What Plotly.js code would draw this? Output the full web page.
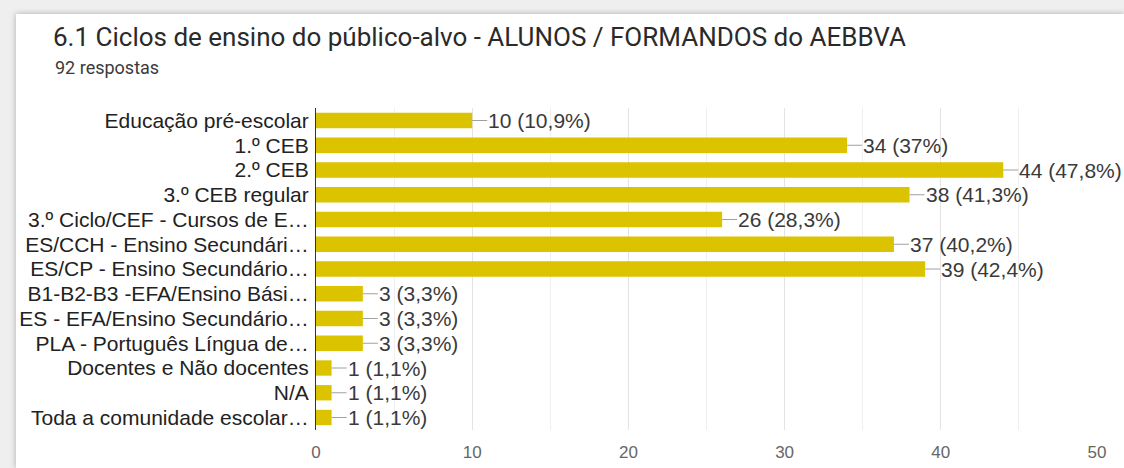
<!DOCTYPE html>
<html>
<head>
<meta charset="utf-8">
<script src="https://cdn.plot.ly/plotly-3.0.1.min.js"></script>
<style>
  html, body { margin: 0; padding: 0; background: #efefef; width: 1124px; height: 468px; overflow: hidden; }
  #chart { position: absolute; left: 16px; top: 14px; width: 1108px; height: 454px; background: #fff;
           box-shadow: 0 0 6px rgba(0,0,0,0.28); }
</style>
</head>
<body>
<div id="chart"></div>
<script>
const categories = [
  "Educação pré-escolar",
  "1.º CEB",
  "2.º CEB",
  "3.º CEB regular",
  "3.º Ciclo/CEF - Cursos de E…",
  "ES/CCH - Ensino Secundári…",
  "ES/CP - Ensino Secundário…",
  "B1-B2-B3 -EFA/Ensino Bási…",
  "ES - EFA/Ensino Secundário…",
  "PLA - Português Língua de…",
  "Docentes e Não docentes",
  "N/A",
  "Toda a comunidade escolar…"
];
const counts = [10, 34, 44, 38, 26, 37, 39, 3, 3, 3, 1, 1, 1];
const percents = ["10,9%", "37%", "47,8%", "41,3%", "28,3%", "40,2%", "42,4%", "3,3%", "3,3%", "3,3%", "1,1%", "1,1%", "1,1%"];
const xTicks = [0, 10, 20, 30, 40, 50];
const titleText = "6.1 Ciclos de ensino do público-alvo - ALUNOS / FORMANDOS do AEBBVA";
const subtitleText = "92 respostas";

const labelFont = "'Liberation Sans', Arial, sans-serif";

const trace = {
  type: "bar",
  orientation: "h",
  x: counts,
  y: categories,
  marker: { color: "#dbc300" },
  hoverinfo: "none"
};

const annotations = categories.map((c, i) => ({
  x: counts[i], y: c, xref: "x", yref: "y",
  text: counts[i] + " (" + percents[i] + ")",
  showarrow: true, arrowhead: 0, arrowwidth: 1, arrowcolor: "#a0a0a0",
  ax: 15, ay: 0, xanchor: "left", yanchor: "middle",
  borderpad: 0,
  font: { family: labelFont, size: 21, color: "#3a3a3a" }
}));

annotations.push({
  xref: "paper", yref: "paper",
  x: -263 / 781, y: 1 + 40 / 322,
  xanchor: "left", yanchor: "middle",
  text: subtitleText, showarrow: false,
  font: { family: "Roboto, sans-serif", size: 18, color: "#3a3a3a" }
});

const layout = {
  width: 1108, height: 454,
  margin: { l: 300, r: 27, t: 94, b: 38 },
  paper_bgcolor: "#ffffff",
  plot_bgcolor: "#ffffff",
  showlegend: false,
  bargap: 0.38,
  title: {
    text: titleText,
    xref: "container", yref: "container",
    x: 37 / 1108, xanchor: "left",
    y: 1 - 23 / 454, yanchor: "middle",
    font: { family: "Roboto, sans-serif", size: 26, color: "#2a2a2a" }
  },
  xaxis: {
    range: [0, 50],
    tickvals: xTicks,
    ticktext: xTicks.map(String),
    showgrid: true, gridcolor: "#e4e4e4", gridwidth: 1,
    minor: { dtick: 5, showgrid: true, gridcolor: "#efefef", gridwidth: 1 },
    zeroline: false, showline: false,
    ticks: "", ticklen: 0, ticklabelstandoff: 10,
    tickfont: { family: labelFont, size: 17, color: "#666" },
    fixedrange: true
  },
  yaxis: {
    autorange: "reversed",
    tickmode: "array",
    tickvals: categories,
    ticktext: categories,
    showline: true, linecolor: "#333", linewidth: 1,
    showgrid: false, zeroline: false,
    ticks: "", ticklen: 0, ticklabelstandoff: 2,
    tickfont: { family: labelFont, size: 21, color: "#222" },
    fixedrange: true
  },
  annotations: annotations
};

Plotly.newPlot("chart", [trace], layout, { displayModeBar: false, staticPlot: true });
</script>
</body>
</html>
